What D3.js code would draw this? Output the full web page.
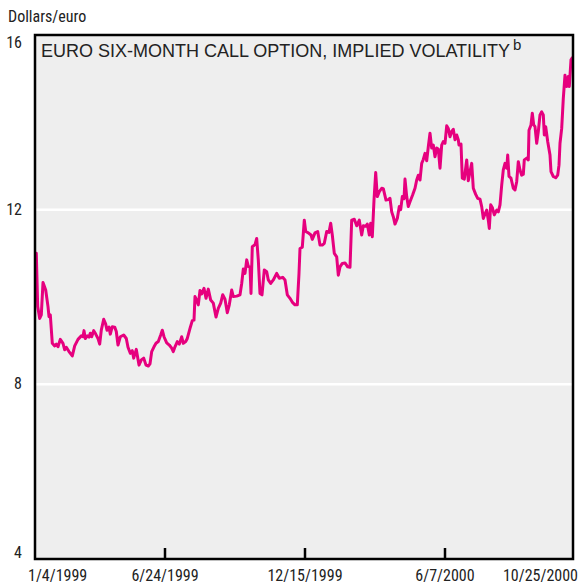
<!DOCTYPE html>
<html><head><meta charset="utf-8">
<script src="https://cdn.jsdelivr.net/npm/d3@7/dist/d3.min.js"></script>
<style>
html,body{margin:0;padding:0;background:#fff;}
svg{display:block;}
</style></head>
<body>
<svg id="chart" width="586" height="584"></svg>
<script>
// observation number (trading-session index along the x axis) and implied volatility
const obs = [1.3,2.7,4.7,6.3,8,10.7,13,14,15.3,17.3,19.7,21.3,23,25.3,28,29.7,31.3,34,37.3,39.7,43,46.3,48,49,50.3,52.3,54,55.3,56.7,58.7,60.7,63,64.7,66.3,68.7,70.7,72,74,75.3,77.3,79.7,81.3,83,85.3,88.7,91.3,93,95.3,97.3,98.7,101.3,104,106.3,108.7,111,113.3,115,116.7,119,121,123.3,125.7,127.3,129,131.7,134.3,136.7,138.3,140,142.3,144.3,146.7,148.3,150.7,152.3,155,157.3,159,160,161.7,163.3,165,166.7,169,171,173.3,175.7,178.3,181,183.3,185.7,187.7,190,192.3,194.3,196.7,198.3,201.7,205,206.7,208.3,210,211.7,213.3,215,216,217.3,220,221.7,223.3,225,227,229.3,231.7,233.3,235.7,238.3,241.7,244.3,247.7,250,252.3,255,257.7,260,262.3,264,265,267.3,269.3,270.7,273.3,276,277.3,280,282.7,285,287.3,289.3,291.7,294,295.7,297.3,299.3,301.7,303.3,305,307.3,310,312.7,315,316.7,319.3,321.7,324.3,326.7,328.3,331,332.3,334.3,335.7,337.3,339,340.7,342.3,344.3,346.7,348.3,351,353.3,355,356.7,358.3,360,362.3,364.3,365.7,367.3,369,370,371.7,373.3,375,377.7,380,381.7,383.3,385,386.7,388.3,390,391.7,393.3,395,396.7,398.3,400,401.7,403.3,405,406.7,408.3,410,411.7,413.3,415,416.7,418.3,420,421.7,423.3,424,426,427.3,429.3,431.7,433.3,435,436.7,438.3,440.7,442.7,445,446.7,448.3,450,451.7,453.3,454.3,455.7,457.3,459.3,461.7,463.3,465,466.7,468.3,470,471.7,472.7,474,476,478.3,480,481.7,483.3,485,486.7,488.3,489.3,491.7,493.3,494,496,497.3,498.7,500,501.7,503.3,505,506.7,508.3,509.3,510.7,512.7,515,516,518.3,520.7,522.7,524,525,526.7,528.3,530,531.7,533.3,534.3,536,537.3];
const vol = [11.0,9.78,9.51,9.59,10.33,10.16,9.78,9.55,9.59,8.94,8.88,8.92,8.86,9.03,8.94,8.79,8.85,8.75,8.65,8.88,9.03,9.11,9.09,9.23,9.05,9.11,9.08,9.17,9.09,9.23,9.15,9.05,8.92,9.24,9.49,9.38,9.24,9.31,9.15,9.32,9.31,9.21,8.90,9.09,9.13,9.05,8.85,8.71,8.77,8.60,8.80,8.44,8.56,8.60,8.44,8.42,8.47,8.75,8.86,8.94,8.98,9.13,9.24,9.09,8.95,8.90,8.83,8.75,8.86,8.98,8.92,9.09,8.94,8.98,9.05,9.28,9.46,9.47,10.01,9.93,9.82,10.15,10.07,10.20,9.97,10.18,9.93,9.86,9.54,9.74,9.86,10.05,9.95,9.64,9.82,10.16,10.01,10.02,10.05,10.31,10.64,10.54,10.85,10.7,10.69,10.08,11.15,11.2,11.34,10.85,10.08,10.05,10.62,10.58,10.39,10.31,10.39,10.54,10.43,10.45,10.39,10.05,9.97,9.87,9.82,9.82,10.54,11.11,11.14,11.76,11.50,11.47,11.42,11.32,11.47,11.50,11.19,11.19,11.23,11.50,11.48,11.69,11.42,11.0,10.92,10.50,10.69,10.77,10.78,10.69,10.68,11.76,11.78,11.63,11.76,11.42,11.63,11.62,11.67,11.42,11.69,11.38,12.22,12.85,12.30,12.41,12.49,12.48,12.22,12.23,12.26,11.95,11.84,11.67,11.80,12.07,12.0,12.30,12.25,12.70,12.30,12.07,12.18,12.34,12.49,12.68,12.79,12.68,13.06,13.15,13.29,13.12,13.44,13.75,13.41,13.48,13.21,13.41,13.39,12.95,13.48,13.56,13.52,13.92,13.86,13.67,13.79,13.84,13.6,13.71,13.6,13.48,13.5,12.72,12.70,13.14,12.66,12.87,13.06,12.49,12.35,12.26,12.24,12.07,11.80,11.9,11.99,11.76,11.57,12.11,12.05,11.88,11.99,11.95,12.11,12.56,12.91,13.06,12.95,13.25,12.76,12.72,12.49,12.45,12.64,13.10,12.91,12.79,12.81,13.14,13.18,13.14,13.82,13.94,14.21,13.94,13.9,13.52,13.79,14.17,14.24,14.17,13.71,13.90,13.56,13.25,12.87,12.76,12.73,12.79,13.02,13.52,13.86,14.55,15.08,14.82,15.05,14.82,15.43,15.48];

const obsDomain = [0, 538];
const yDomain = [4, 16];
const yTicks = [4, 8, 12, 16];
const gridValues = [8, 12];
const xTickLabels = ["1/4/1999", "6/24/1999", "12/15/1999", "6/7/2000", "10/25/2000"];
const xTickObs = [0, 130, 270, 410, 538];
const xTickMarks = [130, 270, 410];
const yAxisTitle = "Dollars/euro";
const panelTitle = "EURO SIX-MONTH CALL OPTION, IMPLIED VOLATILITY";
const panelNote = "b";

const M = {left: 35, right: 573, top: 35, bottom: 559};
const svg = d3.select("#chart");
const x = d3.scaleLinear().domain(obsDomain).range([M.left, M.right]);
const y = d3.scaleLinear().domain(yDomain).range([M.bottom, M.top]);
const narrow = "'Liberation Sans Narrow','Arial Narrow','Roboto Condensed',sans-serif";

svg.append("rect").attr("x", M.left).attr("y", M.top)
  .attr("width", M.right - M.left).attr("height", M.bottom - M.top)
  .attr("fill", "#eeeeee");

svg.append("g").selectAll("line").data(gridValues).join("line")
  .attr("x1", M.left).attr("x2", M.right)
  .attr("y1", d => y(d)).attr("y2", d => y(d))
  .attr("stroke", "#ffffff").attr("stroke-width", 2.5);

const data = obs.map((o, i) => ({o, v: vol[i]}));
svg.append("path").datum(data)
  .attr("fill", "none").attr("stroke", "#e6007e").attr("stroke-width", 3)
  .attr("stroke-linejoin", "round").attr("stroke-linecap", "round")
  .attr("d", d3.line().x(d => x(d.o)).y(d => y(d.v)));

// frame
svg.append("rect").attr("x", M.left).attr("y", M.top)
  .attr("width", M.right - M.left).attr("height", M.bottom - M.top)
  .attr("fill", "none").attr("stroke", "#000").attr("stroke-width", 2.5);

// x tick marks (inside, upward)
svg.append("g").selectAll("line").data(xTickMarks).join("line")
  .attr("x1", d => x(d)).attr("x2", d => x(d))
  .attr("y1", M.bottom).attr("y2", M.bottom - 11)
  .attr("stroke", "#000").attr("stroke-width", 2.5);

// x tick labels
svg.append("g").selectAll("text").data(xTickLabels).join("text")
  .attr("x", (d, i) => i === 0 ? x(xTickObs[i]) - 7 : i === xTickLabels.length - 1 ? x(xTickObs[i]) + 5 : x(xTickObs[i]))
  .attr("y", 581)
  .attr("text-anchor", (d, i) => i === 0 ? "start" : i === xTickLabels.length - 1 ? "end" : "middle")
  .attr("font-family", narrow).attr("font-size", 16).attr("fill", "#222")
  .text(d => d);

// y tick labels
svg.append("g").selectAll("text").data(yTicks).join("text")
  .attr("x", 22)
  .attr("y", d => d === yDomain[1] ? y(d) + 13 : d === yDomain[0] ? y(d) - 1 : y(d) + 5)
  .attr("text-anchor", "end")
  .attr("font-family", narrow).attr("font-size", 16).attr("fill", "#222")
  .text(d => d);

svg.append("text").attr("x", 8).attr("y", 22)
  .attr("font-family", narrow).attr("font-size", 16).attr("fill", "#222")
  .text(yAxisTitle);

const t = svg.append("text").attr("x", 41).attr("y", 57)
  .attr("font-family", "'Liberation Sans',Arial,sans-serif").attr("font-size", 18).attr("fill", "#222");
t.append("tspan").text(panelTitle);
t.append("tspan").attr("dx", 3).attr("dy", -7).attr("font-size", 15).text(panelNote);
</script>
</body></html>
